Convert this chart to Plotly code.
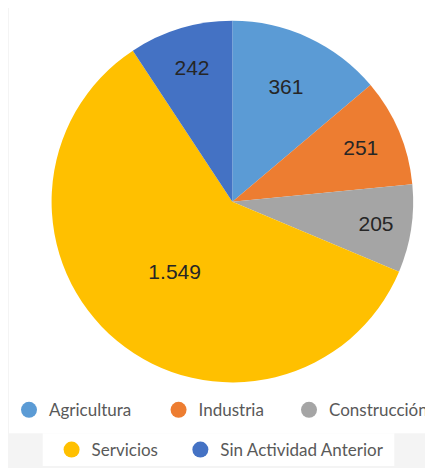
import plotly.graph_objects as go

categories = ["Agricultura", "Industria", "Construcción", "Servicios", "Sin Actividad Anterior"]
values = [361, 251, 205, 1549, 242]
value_labels = ["361", "251", "205", "1.549", "242"]
colors = ["#5B9BD5", "#ED7D31", "#A5A5A5", "#FFC000", "#4472C4"]

# page has an 8px body margin, so the figure is sized/offset to compensate
W, H = 425, 460

fig = go.Figure()
fig.add_trace(go.Pie(
    labels=categories, values=values, text=value_labels,
    textinfo="text", textposition="inside", insidetextorientation="horizontal",
    textfont=dict(family="Liberation Sans, Arial", size=21, color="#262626"),
    marker=dict(colors=colors, line=dict(width=0)),
    sort=False, direction="clockwise", rotation=0,
    showlegend=False, hoverinfo="label+value",
    domain=dict(x=[44 / W, 409 / W], y=[1 - 377 / H, 1 - 12 / H]),
))

# one legend per entry (circle markers), laid out in two rows
legend_x = [1, 152, 284, 44, 174]
legend_y = [404, 404, 404, 444, 444]
legend_names = ["legend", "legend2", "legend3", "legend4", "legend5"]

legend_font = dict(family="Lato, Open Sans, sans-serif", size=17, color="#595959")
layout_legends = {}
for cat, col, lg, lx, ly in zip(categories, colors, legend_names, legend_x, legend_y):
    fig.add_trace(go.Scatter(
        x=[None], y=[None], mode="markers", name=cat,
        marker=dict(symbol="circle", size=16, color=col),
        showlegend=True, legend=lg,
    ))
    layout_legends[lg] = dict(orientation="h", x=lx / W, xanchor="left", y=1 - ly / H,
                              yanchor="middle", font=legend_font,
                              bgcolor="rgba(0,0,0,0)", itemclick=False)

fig.update_layout(
    width=W, height=H,
    margin=dict(l=0, r=0, t=0, b=0),
    paper_bgcolor="#f4f4f4",
    plot_bgcolor="rgba(0,0,0,0)",
    xaxis=dict(visible=False), yaxis=dict(visible=False),
    shapes=[
        dict(type="rect", xref="paper", yref="paper", x0=1 / W, x1=1, y0=1 - 427 / H, y1=1,
             fillcolor="white", line=dict(width=0), layer="below"),
        dict(type="rect", xref="paper", yref="paper", x0=35 / W, x1=390 / W, y0=0, y1=1 - 427 / H,
             fillcolor="white", line=dict(width=0), layer="below"),
    ],
    **layout_legends,
)

fig.write_html("out.html")
